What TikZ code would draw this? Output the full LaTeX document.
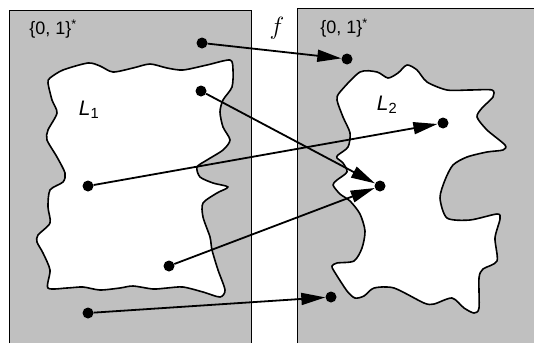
\documentclass[tikz,border=0pt]{standalone}
\usepackage{fontspec}
\setmainfont{Liberation Sans}
\usetikzlibrary{arrows.meta}
\definecolor{setgray}{RGB}{192,192,192}
\begin{document}
\begin{tikzpicture}[x=1pt, y=-1pt,
  dot/.style={circle, fill, inner sep=0pt, minimum size=11pt},
  blob/.style={fill=white, line width=1.6pt, line join=round},
  map/.style={-{Triangle[length=24pt,width=12pt]}, line width=1.8pt},
  lab/.style={font=\fontsize{18}{18}\selectfont}]
\useasboundingbox (0,0) rectangle (534,343);
\fill[setgray](9,10) rectangle (251,343);
\draw[line width=.9pt](9,343)--(9,10)--(251,10)--(251,343);
\fill[setgray](297,8) rectangle (534,343);
\draw[line width=.9pt](297,343)--(297,8)--(534,8);
\draw[blob] plot[smooth cycle, tension=.45] coordinates {(50,78) (63,70) (88,63) (100,66) (113,72) (133,68) (150,64) (167,68) (183,70) (207,65) (230,60) (233,70) (232,87) (223,100) (220,112) (223,127) (230,140) (223,150) (207,160) (197,167) (200,177) (213,183) (228,187) (217,193) (203,203) (203,217) (210,237) (212,250) (218,270) (225,290) (220,297) (203,292) (183,287) (167,288) (153,289) (133,286) (120,288) (100,290) (83,287) (67,288) (48,288) (50,270) (43,253) (37,242) (38,235) (50,223) (48,207) (50,190) (63,182) (65,173) (57,157) (47,140) (48,130) (57,113) (52,100) (48,83)};
\draw[blob] plot[smooth cycle, tension=.45] coordinates {(340,92) (360,72) (377,72) (388,78) (398,73) (407,65) (417,70) (427,82) (447,90) (470,90) (492,90) (493,97) (482,108) (477,117) (487,130) (505,145) (503,150) (487,152) (467,157) (453,165) (445,180) (440,198) (447,218) (470,220) (497,214) (500,219) (495,238) (497,261) (483,269) (479,278) (479,308) (474,313) (464,308) (452,298) (434,304) (424,303) (394,288) (374,288) (364,296) (355,298) (347,291) (334,271) (332,266) (337,263) (354,261) (362,248) (365,231) (360,214) (350,201) (340,194) (333,185) (337,180) (347,172) (343,163) (337,158) (338,155) (348,147) (350,133) (343,117) (337,100)};
\node[lab] (s1) at (53,29) {\{0, 1\}\textsuperscript{*}};
\node[lab] (s2) at (344,28) {\{0, 1\}\textsuperscript{*}};
\node (f) at (277,28) {\fontsize{26}{26}\selectfont$f$};
\node (l1) at (89,110) {\fontsize{21}{21}\selectfont\textit{L}\textsubscript{1}};
\node (l2) at (387,105) {\fontsize{21}{21}\selectfont\textit{L}\textsubscript{2}};
\node[dot] (a1) at (202,43) {};
\node[dot] (a2) at (201,91) {};
\node[dot] (a3) at (88,186) {};
\node[dot] (a4) at (169,266) {};
\node[dot] (a5) at (88,313) {};
\node[dot] (b1) at (347,59) {};
\node[dot] (b2) at (443,123) {};
\node[dot] (b3) at (380,186) {};
\node[dot] (b4) at (331,297) {};
\draw[map](a1)--(b1);
\draw[map](a2)--(b3);
\draw[map](a3)--(b2);
\draw[map](a4)--(b3);
\draw[map](a5)--(b4);
\end{tikzpicture}
\end{document}
